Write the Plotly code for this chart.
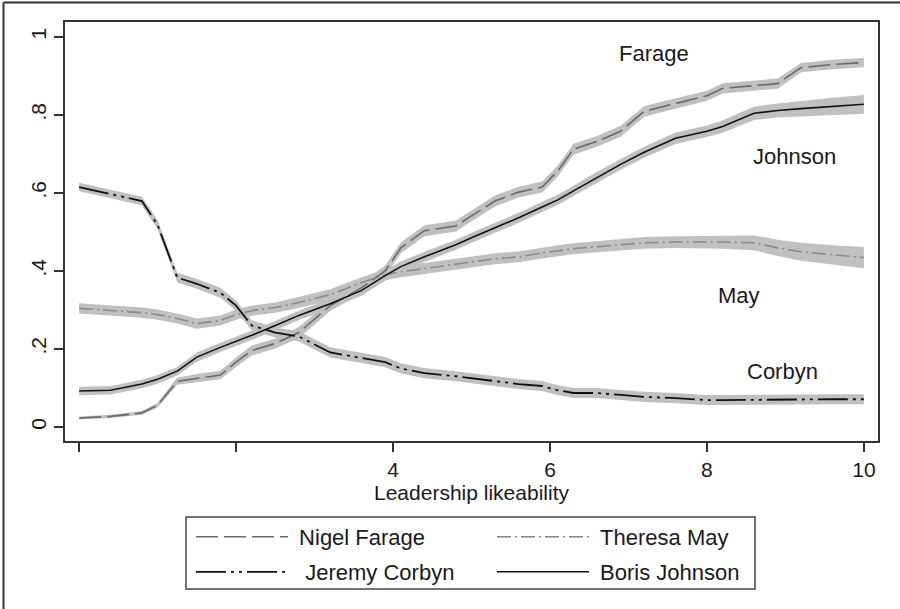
import numpy as np
import plotly.graph_objects as go

# ---- data ----
likeability = [0, 0.4, 0.8, 1.0, 1.25, 1.5, 1.8, 2.0, 2.2, 2.5, 2.8, 3.2, 3.6, 3.9, 4.1, 4.4, 4.8,
               5.0, 5.3, 5.6, 5.9, 6.1, 6.3, 6.6, 6.9, 7.2, 7.6, 8.0, 8.2, 8.6, 8.9, 9.2, 9.6, 10]

farage = [0.023, 0.027, 0.036, 0.056, 0.117, 0.125, 0.133, 0.166, 0.196, 0.214, 0.242, 0.311, 0.357,
          0.400, 0.459, 0.503, 0.515, 0.541, 0.579, 0.602, 0.615, 0.656, 0.712, 0.732, 0.758, 0.809,
          0.829, 0.849, 0.868, 0.875, 0.880, 0.921, 0.929, 0.934]
farage_se = [0.004, 0.004, 0.005, 0.006, 0.009, 0.011, 0.011, 0.012, 0.013, 0.013, 0.014, 0.014, 0.014,
             0.014, 0.014, 0.014, 0.014, 0.014, 0.014, 0.014, 0.014, 0.014, 0.014, 0.014, 0.014, 0.014,
             0.013, 0.013, 0.013, 0.013, 0.013, 0.012, 0.012, 0.012]

may = [0.304, 0.298, 0.293, 0.288, 0.278, 0.265, 0.273, 0.288, 0.298, 0.306, 0.319, 0.339, 0.370,
       0.390, 0.398, 0.406, 0.418, 0.423, 0.431, 0.436, 0.446, 0.452, 0.457, 0.462, 0.467, 0.472,
       0.474, 0.474, 0.474, 0.472, 0.459, 0.449, 0.441, 0.434]
may_se = [0.013, 0.013, 0.013, 0.013, 0.013, 0.013, 0.013, 0.013, 0.013, 0.013, 0.014, 0.014, 0.014,
          0.014, 0.014, 0.014, 0.014, 0.014, 0.014, 0.014, 0.014, 0.014, 0.014, 0.014, 0.014, 0.015,
          0.015, 0.016, 0.017, 0.019, 0.021, 0.023, 0.025, 0.027]

corbyn = [0.615, 0.597, 0.579, 0.518, 0.383, 0.367, 0.344, 0.311, 0.260, 0.242, 0.232, 0.191, 0.176,
          0.166, 0.150, 0.138, 0.130, 0.125, 0.117, 0.110, 0.105, 0.094, 0.087, 0.087, 0.082, 0.077,
          0.074, 0.069, 0.069, 0.070, 0.070, 0.071, 0.071, 0.071]
corbyn_se = [0.011, 0.011, 0.011, 0.012, 0.013, 0.013, 0.013, 0.013, 0.013, 0.013, 0.013, 0.013, 0.013,
             0.013, 0.013, 0.013, 0.013, 0.013, 0.013, 0.013, 0.013, 0.013, 0.013, 0.013, 0.013, 0.013,
             0.013, 0.013, 0.013, 0.013, 0.013, 0.013, 0.013, 0.013]

johnson = [0.092, 0.094, 0.110, 0.122, 0.143, 0.179, 0.204, 0.219, 0.235, 0.260, 0.286, 0.316, 0.350,
           0.388, 0.411, 0.436, 0.467, 0.485, 0.510, 0.536, 0.564, 0.582, 0.605, 0.640, 0.673, 0.704,
           0.740, 0.758, 0.770, 0.804, 0.811, 0.816, 0.822, 0.827]
johnson_se = [0.011, 0.011, 0.011, 0.011, 0.011, 0.012, 0.012, 0.012, 0.012, 0.012, 0.012, 0.013, 0.013,
              0.013, 0.013, 0.013, 0.013, 0.013, 0.013, 0.013, 0.013, 0.013, 0.013, 0.014, 0.014, 0.014,
              0.015, 0.015, 0.016, 0.017, 0.018, 0.020, 0.022, 0.024]

series_names = ["Nigel Farage", "Theresa May", "Jeremy Corbyn", "Boris Johnson"]
curve_labels = ["Farage", "May", "Corbyn", "Johnson"]
label_x = [7.32, 8.41, 8.96, 9.12]
label_y = [0.956, 0.336, 0.141, 0.692]
x_tickvals = [0, 2, 4, 6, 8, 10]
x_ticktext = ["", "", "4", "6", "8", "10"]
y_tickvals = [0, 0.2, 0.4, 0.6, 0.8, 1.0]
y_ticktext = ["0", ".2", ".4", ".6", ".8", "1"]

# ---- styling ----
FONT = "Liberation Sans, Arial, sans-serif"
TXT = "#1a1a1a"
BAND = "rgb(192,192,192)"
styles = {
    "Nigel Farage": dict(color="#6a6a6a", dash="22px,6px", width=1.6),
    "Theresa May": dict(color="#8a8a8a", dash="14px,4px,2px,4px", width=1.6),
    "Jeremy Corbyn": dict(color="#111111", dash="30px,5px,3px,5px,3px,5px", width=1.8),
    "Boris Johnson": dict(color="#111111", dash="solid", width=1.6),
}
legend_of = {"Nigel Farage": "legend", "Theresa May": "legend",
             "Jeremy Corbyn": "legend2", "Boris Johnson": "legend2"}
NB = "\u00a0"
display_name = {"Nigel Farage": NB + "Nigel Farage", "Theresa May": NB + "Theresa May",
                "Jeremy Corbyn": NB + NB + "Jeremy Corbyn", "Boris Johnson": NB + "Boris Johnson"}

values = {"Nigel Farage": farage, "Theresa May": may, "Jeremy Corbyn": corbyn, "Boris Johnson": johnson}
ses = {"Nigel Farage": farage_se, "Theresa May": may_se, "Jeremy Corbyn": corbyn_se, "Boris Johnson": johnson_se}

fig = go.Figure()
x = np.array(likeability)

# confidence bands first
for name in series_names:
    v = np.array(values[name]); s = np.array(ses[name])
    fig.add_trace(go.Scatter(x=x, y=v + s, mode="lines", line=dict(width=0, color=BAND),
                             showlegend=False, hoverinfo="skip"))
    fig.add_trace(go.Scatter(x=x, y=v - s, mode="lines", line=dict(width=0, color=BAND),
                             fill="tonexty", fillcolor=BAND, showlegend=False, hoverinfo="skip"))

# lines
for name in series_names:
    st = styles[name]
    fig.add_trace(go.Scatter(x=x, y=values[name], mode="lines", name=display_name[name],
                             line=dict(color=st["color"], dash=st["dash"], width=st["width"]),
                             legend=legend_of[name]))

for lab, lx, ly in zip(curve_labels, label_x, label_y):
    fig.add_annotation(x=lx, y=ly, text=lab, showarrow=False, xref="x", yref="y",
                       font=dict(family=FONT, size=22, color=TXT))

# plot area: left 65, right 878, top 22, bottom 441 (px)
L, R, T, B = 65, 878, 22, 441
W, H = 900, 609
pw, ph = R - L, B - T
def px_x(p): return (p - L) / pw
def px_y(p): return (B - p) / ph

legend_common = dict(orientation="h", xanchor="left", yanchor="middle", traceorder="normal",
                     font=dict(family=FONT, size=22, color=TXT),
                     bgcolor="rgba(0,0,0,0)", borderwidth=0, itemwidth=92,
                     entrywidth=194, entrywidthmode="pixels", tracegroupgap=0)

fig.update_layout(
    width=W, height=H,
    margin=dict(l=L, r=W - R, t=T, b=H - B),
    paper_bgcolor="white", plot_bgcolor="white",
    font=dict(family=FONT, color=TXT, size=21),
    showlegend=True,
    legend=dict(x=px_x(191), y=px_y(537), **legend_common),
    legend2=dict(x=px_x(191), y=px_y(572), **legend_common),
    xaxis=dict(range=[-0.18, 10.18], tickmode="array", tickvals=x_tickvals, ticktext=x_ticktext,
               ticks="outside", ticklen=9, tickwidth=1.5, tickcolor="#333",
               showline=True, linecolor="#333", linewidth=1.5, mirror=True,
               showgrid=False, zeroline=False,
               tickfont=dict(family=FONT, size=21, color=TXT),
               title=dict(text="Leadership likeability", standoff=2,
                          font=dict(family=FONT, size=21, color=TXT))),
    yaxis=dict(range=[-0.036, 1.038], tickmode="array", tickvals=y_tickvals, ticktext=y_ticktext,
               ticks="outside", ticklen=9, tickwidth=1.5, tickcolor="#333", tickangle=-90,
               showline=True, linecolor="#333", linewidth=1.5, mirror=True,
               showgrid=False, zeroline=False,
               tickfont=dict(family=FONT, size=21, color=TXT)),
)

# legend frame
fig.add_shape(type="rect", xref="paper", yref="paper",
              x0=px_x(186), x1=px_x(755), y0=px_y(589), y1=px_y(517),
              line=dict(color="#444", width=1.5), fillcolor="rgba(0,0,0,0)")
# outer image frame (left and top edges)
fig.add_shape(type="line", xref="paper", yref="paper",
              x0=px_x(3.5), x1=px_x(3.5), y0=px_y(609), y1=px_y(2.5),
              line=dict(color="#333", width=2))
fig.add_shape(type="line", xref="paper", yref="paper",
              x0=px_x(3.5), x1=px_x(900), y0=px_y(2.5), y1=px_y(2.5),
              line=dict(color="#333", width=2))

fig.write_html("out.html", config={"displayModeBar": False},
               post_script="document.body.style.margin='0';document.body.style.overflow='hidden';")
